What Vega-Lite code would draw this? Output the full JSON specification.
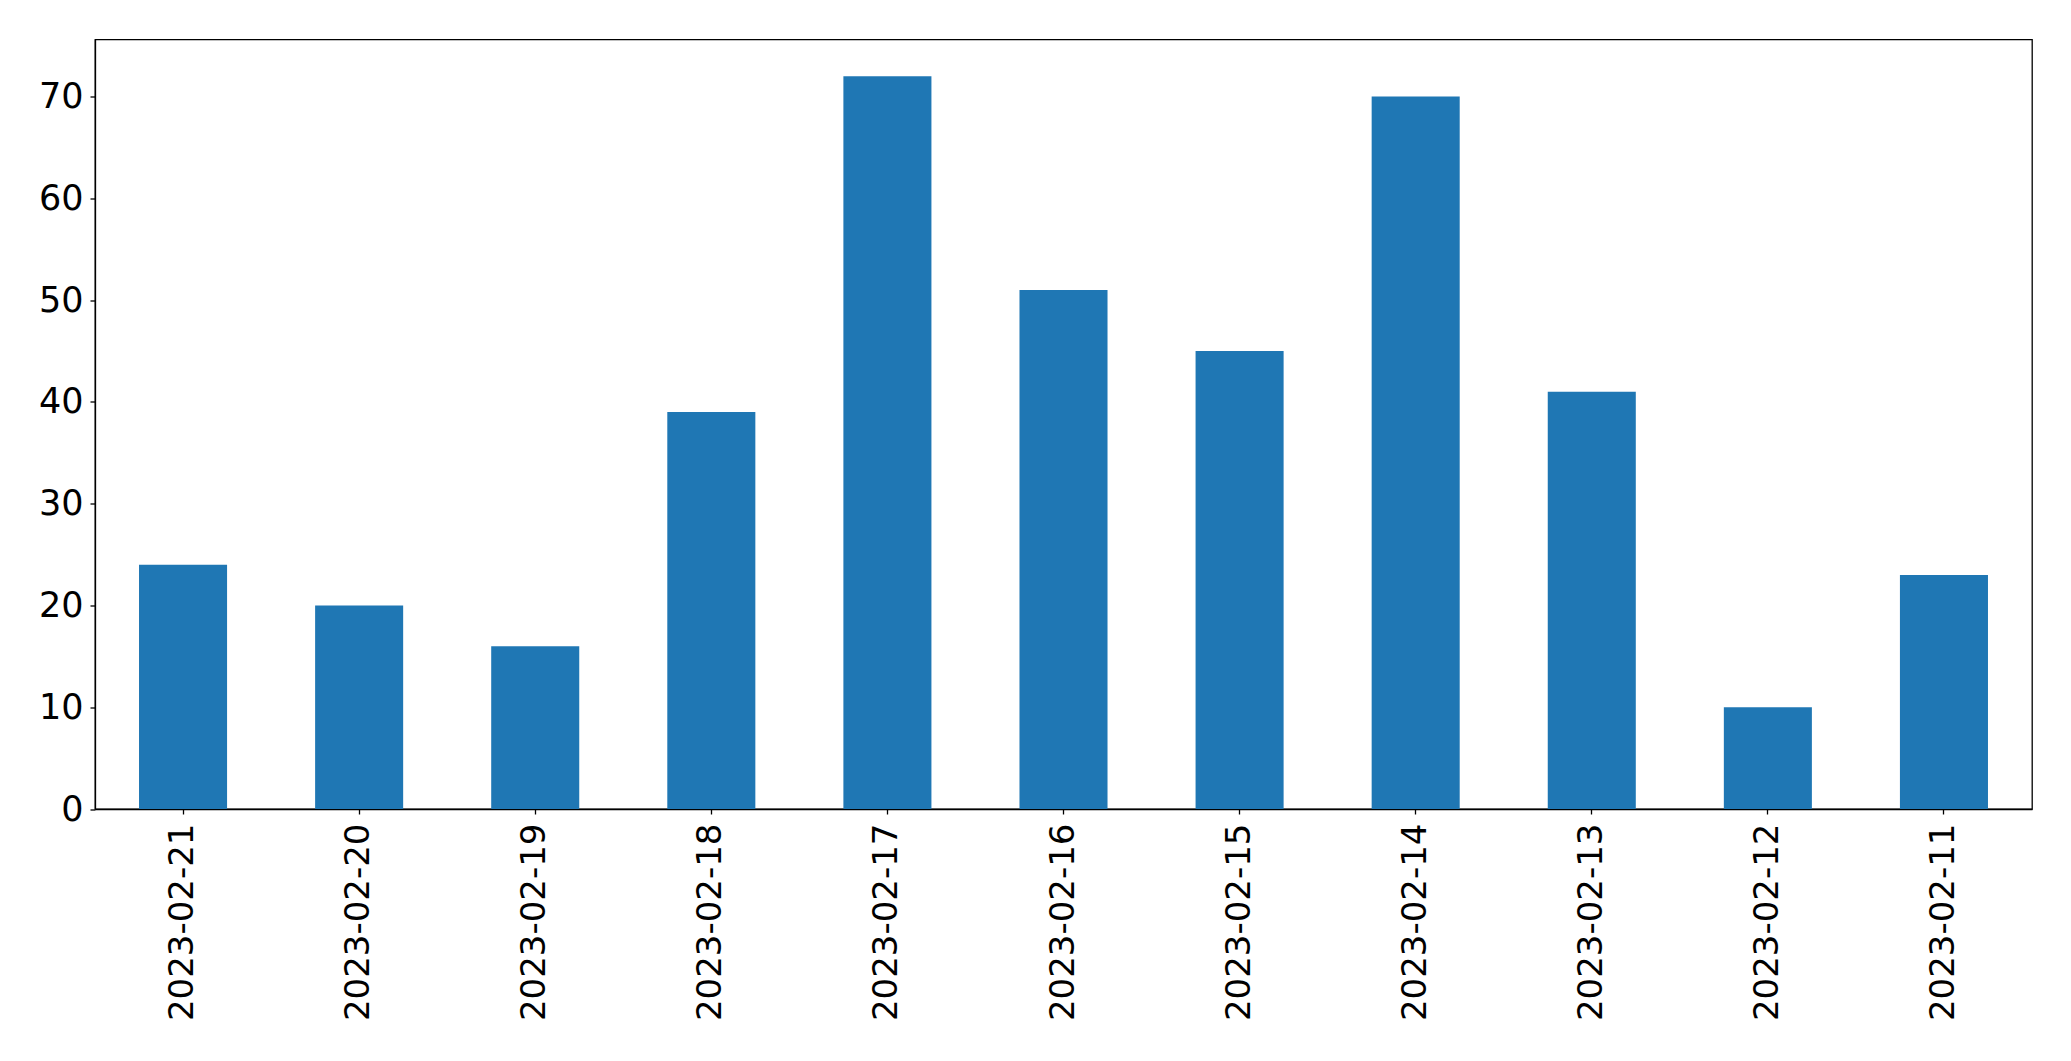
{
  "$schema": "https://vega.github.io/schema/vega-lite/v6.json",
  "autosize": "none",
  "padding": {"left": 95, "top": 39.5, "right": 40, "bottom": 252},
  "width": 1937,
  "height": 769.5,
  "background": "white",
  "config": {
    "view": {"stroke": "black", "strokeWidth": 1.3},
    "axis": {
      "labelFont": "DejaVu Sans",
      "labelFontSize": 35,
      "labelColor": "black",
      "labelLimit": 0,
      "domainColor": "black",
      "tickColor": "black",
      "tickSize": 5,
      "tickWidth": 1.3,
      "domainWidth": 1.3,
      "grid": false,
      "title": null,
      "labelPadding": 7
    }
  },
  "data": {
    "values": [
      {"date": "2023-02-21", "count": 24},
      {"date": "2023-02-20", "count": 20},
      {"date": "2023-02-19", "count": 16},
      {"date": "2023-02-18", "count": 39},
      {"date": "2023-02-17", "count": 72},
      {"date": "2023-02-16", "count": 51},
      {"date": "2023-02-15", "count": 45},
      {"date": "2023-02-14", "count": 70},
      {"date": "2023-02-13", "count": 41},
      {"date": "2023-02-12", "count": 10},
      {"date": "2023-02-11", "count": 23}
    ]
  },
  "mark": {"type": "bar", "color": "#1f77b4"},
  "encoding": {
    "x": {
      "field": "date",
      "type": "nominal",
      "sort": null,
      "scale": {"paddingInner": 0.5, "paddingOuter": 0.25},
      "axis": {"labelAngle": -90, "labelPadding": 9, "labelFontSize": 34}
    },
    "y": {
      "field": "count",
      "type": "quantitative",
      "scale": {"domain": [0, 75.6], "nice": false, "zero": true},
      "axis": {"values": [0, 10, 20, 30, 40, 50, 60, 70]}
    }
  }
}
